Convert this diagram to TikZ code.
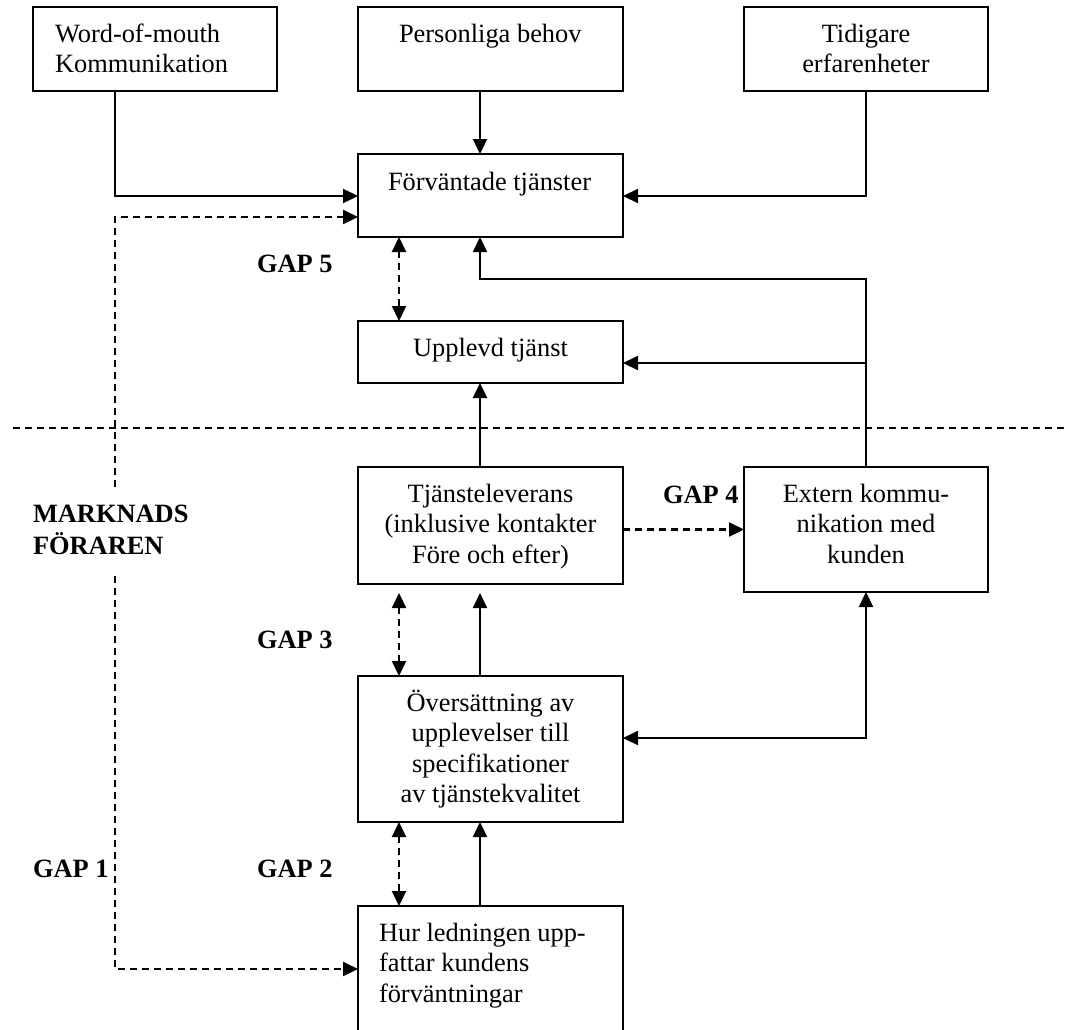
\documentclass[tikz,border=0pt]{standalone}
\usepackage{fontspec}
\setmainfont{Liberation Serif}
\usetikzlibrary{arrows.meta}
\begin{document}
\begin{tikzpicture}[x=1pt,y=-1pt,
  >={Triangle[length=15pt,width=14pt]},
  box/.style={draw, line width=2.2pt, inner sep=0pt, outer sep=0pt, anchor=north west},
  txt/.style={font=\fontsize{26.4}{30.5}\selectfont, inner sep=0pt, outer sep=0pt},
  gap/.style={font=\fontsize{26.4}{30.5}\selectfont\bfseries, inner sep=0pt, outer sep=0pt, anchor=base west},
  arr/.style={line width=2.2pt, ->},
  dsh/.style={line width=2.2pt, dash pattern=on 7pt off 5pt}]
\useasboundingbox (0,0) rectangle (1066,1029);
\clip (0,0) rectangle (1066,1029);

% boxes
\node[box, minimum width=244pt, minimum height=84pt] (wom) at (33,7) {};
\node[box, minimum width=265pt, minimum height=84pt] (pers) at (358,7) {};
\node[box, minimum width=244pt, minimum height=84pt] (tid) at (744,7) {};
\node[box, minimum width=265pt, minimum height=83pt] (forv) at (358,154) {};
\node[box, minimum width=265pt, minimum height=62pt] (upp) at (358,321) {};
\node[box, minimum width=265pt, minimum height=117pt] (tj) at (358,467) {};
\node[box, minimum width=244pt, minimum height=125pt] (ext) at (744,467) {};
\node[box, minimum width=265pt, minimum height=146pt] (ov) at (358,676) {};
\node[box, minimum width=265pt, minimum height=150pt] (hur) at (358,906) {};

% box texts
\node[txt, anchor=north west, align=left] (womt) at (55,20.65) {\strut Word-of-mouth\\\strut Kommunikation};
\node[txt, anchor=base west] (perst) at (399,42) {Personliga behov};
\node[txt, anchor=north, align=center] (tidt) at (866,20.65) {\strut Tidigare\\\strut erfarenheter};
\node[txt, anchor=base west] (forvt) at (388,190) {Förväntade tjänster};
\node[txt, anchor=base] (uppt) at (490.5,356) {Upplevd tjänst};
\node[txt, anchor=north, align=center] (tjt) at (490.5,480.65) {\strut Tjänsteleverans\\\strut (inklusive kontakter\\\strut Före och efter)};
\node[txt, anchor=north, align=center] (extt) at (866,480.65) {\strut Extern kommu-\\\strut nikation med\\\strut kunden};
\node[txt, anchor=north, align=center] (ovt) at (490.5,689.65) {\strut Översättning av\\\strut upplevelser till\\\strut specifikationer\\\strut av tjänstekvalitet};
\node[txt, anchor=north west, align=left] (hurt) at (379,919.65) {\strut Hur ledningen upp-\\\strut fattar kundens\\\strut förväntningar};

% helper coordinates
\coordinate (p1) at (115,196);
\coordinate (p2) at (115,217);
\coordinate (p3) at (115,969);
\coordinate (k1) at (866,279);
\coordinate (k2) at (866,363);
\coordinate (k4) at (866,738);
\coordinate (xa) at (480,0);
\coordinate (xd) at (399,0);

% separator
\draw[dsh] (13,428) -- (1066,428);

% connectors
\draw[arr] (wom.south -| p1) -- (p1) -- (forv.west |- p1);
\draw[arr] (pers.south -| xa) -- (forv.north -| xa);
\draw[arr] (tid.south) |- (forv.east |- p1);
\draw[dsh,<->] (forv.west |- p2) -- (p2) -- (p3) -- (hur.west |- p3);
\draw[dsh,<->] (forv.south -| xd) -- (upp.north -| xd);
\draw[arr] (ext.north) -- (k1) -| (forv.south -| xa);
\draw[arr] (k2) -- (upp.east |- k2);
\draw[arr] (tj.north -| xa) -- (upp.south -| xa);
\draw[dsh,->] (tj.east |- ext.west) -- (ext.west);
\draw[dsh,<->,shorten >=9pt] (ov.north -| xd) -- (tj.south -| xd);
\draw[arr,shorten >=9pt] (ov.north -| xa) -- (tj.south -| xa);
\draw[line width=2.2pt,<->] (ov.east |- k4) -| (ext.south);
\draw[dsh,<->] (ov.south -| xd) -- (hur.north -| xd);
\draw[arr] (hur.north -| xa) -- (ov.south -| xa);

% labels
\node[gap, anchor=north west, align=left, fill=white, inner ysep=12pt] (mf) at (33,488.65) {\strut MARKNADS\\\strut FÖRAREN};
\node[gap] (g5) at (257,272) {GAP 5};
\node[gap] (g4) at (663,503) {GAP 4};
\node[gap] (g3) at (257,648) {GAP 3};
\node[gap] (g2) at (257,877) {GAP 2};
\node[gap] (g1) at (33,877) {GAP 1};
\end{tikzpicture}
\end{document}
